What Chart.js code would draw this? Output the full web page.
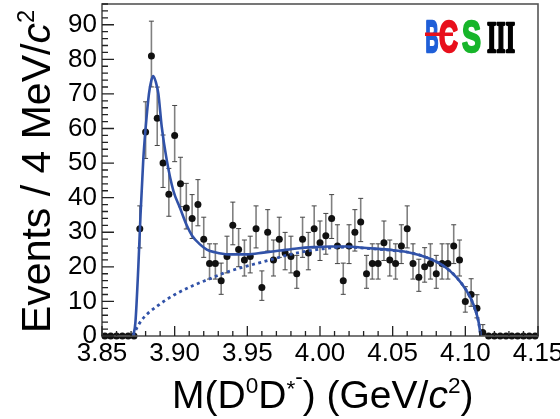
<!DOCTYPE html>
<html lang="en">
<head>
<meta charset="UTF-8">
<title>M(D0D*-) spectrum</title>
<script src="https://cdn.jsdelivr.net/npm/chart.js"></script>
<style>
    html, body { margin: 0; padding: 0; background: #fff; }
    #wrap { width: 560px; height: 419px; }
</style>
</head>
<body>
<div id="wrap"><canvas id="massChart" width="560" height="419"></canvas></div>
<script>
// histogram: 4 MeV bins starting at 3.85 GeV
const binLow = 3.85;
const binWidth = 0.004;
const counts = [0, 0, 0, 0, 0, 0,
    31, 59, 81, 63, 50, 41, 58, 44, 37, 34,
    38, 28, 21, 21, 16, 23, 32, 25, 22, 23,
    31, 14, 30, 22, 28, 24, 23, 18, 28, 24,
    31, 27, 29, 34, 26, 16, 26, 30, 33, 18,
    21, 21, 27, 22, 21, 26, 31, 21, 17, 20,
    21, 18, 21, 21, 26, 22, 10, 12, 8, 1,
    0, 0, 0, 0, 0, 0, 0, 0, 0];

// total fit (solid)
const fitMass = [3.8715, 3.873, 3.875, 3.8765, 3.8784, 3.880, 3.8823, 3.884, 3.8853, 3.887,
    3.8888, 3.8911, 3.8945, 3.8991, 3.9037, 3.9083, 3.912, 3.9174, 3.9221, 3.9278,
    3.937, 3.950, 3.961, 3.9725, 3.984, 3.9954, 4.0069, 4.0184, 4.0276, 4.040,
    4.0505, 4.062, 4.0735, 4.0849, 4.0941, 4.101, 4.1055, 4.109, 4.1106];
const fitTotal = [0, 4, 20, 35, 51, 60, 70, 74, 75.2, 73.5,
    70, 60.5, 51, 42, 37, 32, 29, 26.5, 25, 24.2,
    23.6, 23.6, 24.1, 24.7, 25.3, 25.7, 25.9, 25.9, 25.6, 25.2,
    24.8, 24.1, 22.7, 20.3, 16.9, 13, 9.2, 4.3, 0];

// background component (dotted)
const bkgMass = [3.8715, 3.873, 3.8773, 3.8888, 3.9002, 3.9117, 3.9232, 3.9346, 3.9461, 3.9576,
    3.9691, 3.9805, 3.992, 4.0035, 4.0184, 4.0276, 4.040, 4.0505, 4.062, 4.0735,
    4.0849, 4.0941, 4.101, 4.1055, 4.109, 4.1106];
const bkgValues = [0, 1.5, 4.6, 8.9, 12, 14.4, 16.4, 18.3, 19.8, 21.1,
    22.4, 23.7, 24.6, 25.3, 25.7, 25.5, 25.1, 24.7, 24.1, 22.7,
    20.3, 16.9, 13, 9.2, 4.3, 0];

const xTickValues = [3.85, 3.90, 3.95, 4.00, 4.05, 4.10, 4.15];
const xTickLabels = ['3.85', '3.90', '3.95', '4.00', '4.05', '4.10', '4.15'];
const yTickValues = [0, 10, 20, 30, 40, 50, 60, 70, 80, 90];
const yTickLabels = ['0', '10', '20', '30', '40', '50', '60', '70', '80', '90'];
const xMin = 3.85, xMax = 4.15, yMin = 0, yMax = 96;

const FONT = '"Liberation Sans", Arial, Helvetica, sans-serif';
const fitBlue = '#3152a8';

const points = counts.map((n, i) => ({ x: binLow + binWidth * (i + 0.5), y: n }));
const fitPts = fitMass.map((m, i) => ({ x: m, y: fitTotal[i] }));
const bkgPts = bkgMass.map((m, i) => ({ x: m, y: bkgValues[i] }));

// approximate Poisson 68% interval
function poissonLow(n) {
    if (n <= 0) return 0;
    const a = 1 - 1 / (9 * n) - 1 / (3 * Math.sqrt(n));
    return n - n * a * a * a;
}
function poissonHigh(n) {
    const m = n + 1;
    const a = 1 - 1 / (9 * m) + 1 / (3 * Math.sqrt(m));
    return m * a * a * a - n;
}

// draw text made of pieces (superscripts, italics)
function richText(ctx, parts, size, x, y) {
    let cx = x;
    parts.forEach(p => {
        const s = p.sup ? size * 0.58 : size;
        ctx.font = (p.it ? 'italic ' : '') + s + 'px ' + FONT;
        const dy = p.sup ? -size * (p.raise || 0.39) : 0;
        ctx.fillText(p.t, cx + (p.dx || 0), y + dy);
        cx += ctx.measureText(p.t).width + (p.dx || 0);
    });
}

const decor = {
    id: 'decor',
    beforeDatasetsDraw(chart) {
        const ctx = chart.ctx;
        const xs = chart.scales.x, ys = chart.scales.y;
        ctx.save();
        counts.forEach((n, i) => {
            if (n <= 0) return;
            const px = xs.getPixelForValue(binLow + binWidth * (i + 0.5));
            const top = ys.getPixelForValue(n + poissonHigh(n));
            const bot = ys.getPixelForValue(n - poissonLow(n));
            ctx.strokeStyle = '#808080';
            ctx.lineWidth = 1.6;
            ctx.beginPath();
            ctx.moveTo(px, top); ctx.lineTo(px, bot);
            ctx.stroke();
            ctx.strokeStyle = '#444';
            ctx.lineWidth = 1;
            ctx.beginPath();
            ctx.moveTo(px - 2.5, top); ctx.lineTo(px + 2.5, top);
            ctx.moveTo(px - 2.5, bot); ctx.lineTo(px + 2.5, bot);
            ctx.stroke();
        });
        ctx.restore();
    },
    afterDraw(chart) {
        const ctx = chart.ctx;
        const a = chart.chartArea;
        const xs = chart.scales.x, ys = chart.scales.y;
        ctx.save();
        // frame
        ctx.strokeStyle = '#555';
        ctx.lineWidth = 1.6;
        ctx.strokeRect(a.left, a.top, a.right - a.left, a.bottom - a.top);

        // inward ticks
        ctx.strokeStyle = '#222';
        ctx.lineWidth = 1.3;
        ctx.beginPath();
        for (let k = 0; k <= 30; k++) {
            const px = xs.getPixelForValue(xMin + k * 0.01);
            const len = k % 5 === 0 ? 10 : 5;
            ctx.moveTo(px, a.bottom); ctx.lineTo(px, a.bottom - len);
        }
        for (let k = 0; k <= 48; k++) {
            const py = ys.getPixelForValue(k * 2);
            const len = k % 5 === 0 ? 12 : 6;
            ctx.moveTo(a.left, py); ctx.lineTo(a.left + len, py);
        }
        ctx.stroke();

        // axis titles
        ctx.fillStyle = '#000';
        ctx.textBaseline = 'alphabetic';
        richText(ctx, [
            { t: 'M(D' }, { t: '0', sup: true }, { t: 'D' }, { t: '*', sup: true, raise: 0.3 },
            { t: '-', sup: true, raise: 0.62 }, { t: ') (GeV/' }, { t: 'c', it: true },
            { t: '2', sup: true }, { t: ')' }
        ], 39, 172, 408);

        ctx.save();
        ctx.translate(50, 333);
        ctx.rotate(-Math.PI / 2);
        richText(ctx, [
            { t: 'Events / 4 MeV/' }, { t: 'c', it: true }, { t: '2', sup: true }
        ], 41, 0, 0);
        ctx.restore();

        // experiment logo
        function glyph(t, color, x, w, font) {
            ctx.font = font;
            const m = ctx.measureText(t).width;
            ctx.save();
            ctx.translate(x, 52);
            ctx.scale(w / m, 1);
            ctx.fillStyle = color;
            ctx.strokeStyle = color;
            ctx.lineWidth = 2.5;
            ctx.lineJoin = 'round';
            ctx.fillText(t, 0, 0);
            ctx.strokeText(t, 0, 0);
            ctx.restore();
        }
        const logoFont = 'bold 45px ' + FONT;
        glyph('B', '#1f5fd8', 425.5, 13, logoFont);
        glyph('C', '#e8101c', 439, 19, logoFont);
        ctx.fillStyle = '#e8101c';
        ctx.fillRect(425, 32.5, 28, 3.5);
        glyph('S', '#17b52a', 462, 19, logoFont);
        glyph('III', '#000', 487, 28, 'bold 45px "Liberation Serif", serif');
        ctx.restore();
    }
};

new Chart(document.getElementById('massChart'), {
    type: 'scatter',
    data: {
        datasets: [
            {
                label: 'fit',
                data: fitPts,
                showLine: true,
                borderColor: fitBlue,
                borderWidth: 2.6,
                pointRadius: 0,
                cubicInterpolationMode: 'monotone',
                order: 0
            },
            {
                label: 'background',
                data: bkgPts,
                showLine: true,
                borderColor: fitBlue,
                borderWidth: 2.8,
                borderDash: [3, 3.5],
                pointRadius: 0,
                cubicInterpolationMode: 'monotone',
                order: 1
            },
            {
                label: 'data',
                data: points,
                pointRadius: 3.5,
                pointBackgroundColor: '#111',
                pointBorderWidth: 0,
                clip: false,
                order: 2
            }
        ]
    },
    options: {
        responsive: false,
        animation: false,
        events: [],
        layout: { padding: { top: 4, right: 22, left: 0, bottom: 0 } },
        plugins: { legend: { display: false }, tooltip: { enabled: false } },
        scales: {
            x: {
                type: 'linear',
                min: xMin,
                max: xMax,
                grid: { display: false, drawTicks: false },
                border: { display: false },
                afterBuildTicks: s => { s.ticks = xTickValues.map(v => ({ value: v })); },
                afterFit: s => { s.height = 83; s.paddingLeft = 0; s.paddingRight = 0; },
                ticks: {
                    autoSkip: false,
                    maxRotation: 0,
                    padding: 2,
                    color: '#000',
                    font: { family: FONT, size: 26 },
                    callback: (v, i) => xTickLabels[i]
                }
            },
            y: {
                min: yMin,
                max: yMax,
                grid: { display: false, drawTicks: false },
                border: { display: false },
                afterBuildTicks: s => { s.ticks = yTickValues.map(v => ({ value: v })); },
                afterFit: s => { s.width = 102; s.paddingTop = 0; s.paddingBottom = 0; },
                ticks: {
                    autoSkip: false,
                    padding: 5,
                    color: '#000',
                    font: { family: FONT, size: 26 },
                    callback: (v, i) => yTickLabels[i]
                }
            }
        }
    },
    plugins: [decor]
});
</script>
</body>
</html>
